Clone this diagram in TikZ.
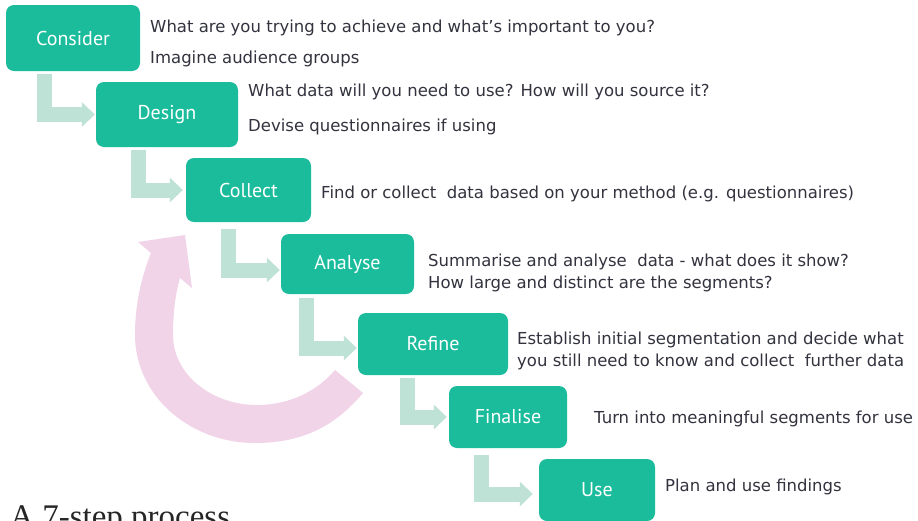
\documentclass[tikz,border=0pt]{standalone}
\usepackage{fontspec}
\setmainfont{PT Sans}
\newfontfamily\notefont{DejaVu Sans}
\newfontfamily\titlefont{Liberation Serif}
\usetikzlibrary{arrows.meta}
\definecolor{stagegreen}{HTML}{1ABC9C}
\definecolor{elbowgreen}{HTML}{BEE2D5}
\definecolor{looppink}{HTML}{F2D4E9}
\definecolor{notegray}{HTML}{33333F}

\begin{document}
\begin{tikzpicture}[x=1pt, y=-1pt,
    stage/.style={fill=stagegreen, rounded corners=8pt, text=white, inner sep=0pt,
      font=\fontsize{20}{22}\selectfont},
    note/.style={anchor=base west, inner sep=0pt, text=notegray,
      font=\notefont\fontsize{16.5}{19}\selectfont},
    elbow/.style={draw=elbowgreen, line width=15pt,
      -{Triangle[width=24pt,length=13pt]}}]

    % Page and background
    \fill[white] (0,0) rectangle (918,520);
    \useasboundingbox (0,0) rectangle (918,520);

    % Loop back arrow
    \fill[looppink] (151,253) .. controls (141,278) and (135,305) .. (135,335)
        .. controls (135,395) and (189,443) .. (255,443)
        .. controls (305,443) and (337,424) .. (363,393)
        -- (335,370)
        .. controls (319,389) and (292,405) .. (257,405)
        .. controls (211,405) and (173,374) .. (173,335)
        .. controls (173,310) and (176,292) .. (180,278)
        -- (192,288) -- (185,235) -- (138,242) -- cycle;

    % Stage boxes
    \node[stage, minimum width=134pt, minimum height=66pt] (consider) at (73,38) {Consider};
    \node[stage, minimum width=142pt, minimum height=65pt] (design) at (167,114.5) {Design};
    \node[stage, minimum width=125pt, minimum height=64pt] (collect) at (248.5,190) {Collect};
    \node[stage, minimum width=133pt, minimum height=60pt] (analyse) at (347.5,264) {Analyse};
    \node[stage, minimum width=150pt, minimum height=62pt] (refine) at (433,344) {Refine};
    \node[stage, minimum width=118pt, minimum height=62pt] (finalise) at (508,417) {Finalise};
    \node[stage, minimum width=116pt, minimum height=62pt] (use) at (597,490) {Use};

    % Elbow arrows between the stages
    \draw[elbow] ([xshift=39pt,yshift=-3pt]consider.south west) |- ([xshift=-1pt]design.west);
    \draw[elbow] ([xshift=43pt,yshift=-3pt]design.south west) |- ([xshift=-3pt]collect.west);
    \draw[elbow] ([xshift=43pt,yshift=-7pt]collect.south west) |- ([xshift=-1pt,yshift=-6pt]analyse.west);
    \draw[elbow] ([xshift=26pt,yshift=-4pt]analyse.south west) |- ([xshift=-1pt,yshift=-4pt]refine.west);
    \draw[elbow] ([xshift=50pt,yshift=-3pt]refine.south west) |- ([xshift=-2pt]finalise.west);
    \draw[elbow] ([xshift=33pt,yshift=-7pt]finalise.south west) |- ([xshift=-6pt,yshift=-4pt]use.west);

    % Notes beside the stages
    \node[note] (considerA) at (150,32) {What are you trying to achieve and what’s important to you?};
    \node[note] (considerB) at (150,63) {Imagine audience groups};
    \node[note] (designA) at (248,96) {What data will you need to use? How will you source it?};
    \node[note] (designB) at (248,131) {Devise questionnaires if using};
    \node[note] (collectA) at (321,198) {Find or collect\ \ data based on your method (e.g. questionnaires)};
    \node[note] (analyseA) at (428,266) {Summarise and analyse\ \ data - what does it show?};
    \node[note] (analyseB) at (428,288) {How large and distinct are the segments?};
    \node[note] (refineA) at (517,344) {Establish initial segmentation and decide what};
    \node[note] (refineB) at (517,366) {you still need to know and collect\ \ further data};
    \node[note] (finaliseA) at (594,423) {Turn into meaningful segments for use};
    \node[note] (useA) at (665,491) {Plan and use findings};

    % Caption, cut by the page edge
    \node[anchor=base west, inner sep=0pt, text=black!85,
        font=\titlefont\fontsize{33}{33}\selectfont] (caption) at (10,527) {A 7-step process};

\end{tikzpicture}
\end{document}
